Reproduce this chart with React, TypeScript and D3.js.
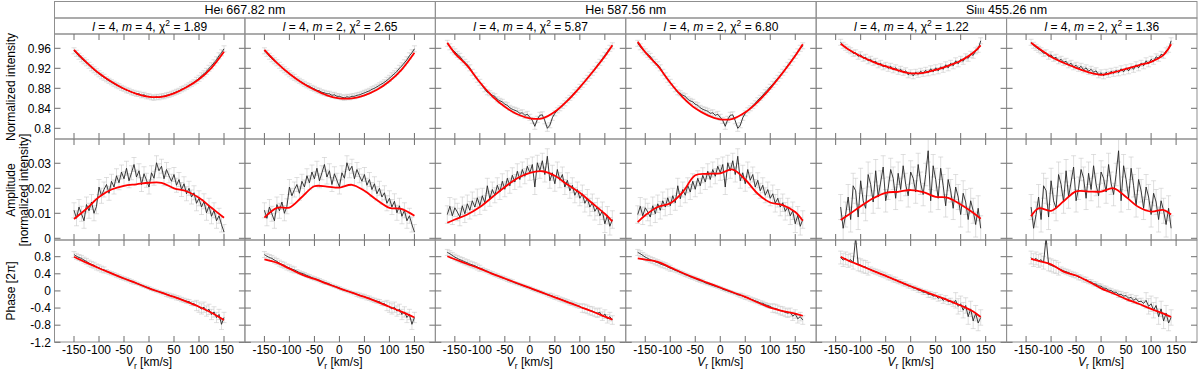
import * as d3 from 'd3';
import React, { useEffect, useRef } from 'react';

// velocity grids of the observed profiles (km/s)
const vHe667 = d3.range(-150, 151, 5);
const vHe587 = d3.range(-165, 166, 5);
const vSi455 = d3.range(-140, 141, 5);

// observed: normalized intensity, amplitude, phase
const he667Int = [0.955,0.950,0.944,0.939,0.935,0.931,0.926,0.921,0.917,0.913,0.909,0.905,0.902,0.898,0.895,0.892,0.889,0.886,0.884,0.881,0.879,0.876,0.875,0.872,0.871,0.869,0.869,0.866,0.867,0.864,0.864,0.862,0.861,0.863,0.862,0.864,0.864,0.866,0.867,0.869,0.871,0.873,0.875,0.878,0.880,0.883,0.886,0.889,0.892,0.896,0.900,0.905,0.909,0.914,0.920,0.925,0.931,0.937,0.945,0.951,0.959];
const he667Amp = [0.0112,0.0080,0.0125,0.0098,0.0070,0.0135,0.0110,0.0145,0.0100,0.0128,0.0205,0.0170,0.0195,0.0215,0.0180,0.0228,0.0205,0.0250,0.0222,0.0265,0.0238,0.0280,0.0230,0.0262,0.0295,0.0245,0.0270,0.0215,0.0258,0.0232,0.0205,0.0262,0.0240,0.0302,0.0270,0.0288,0.0238,0.0275,0.0250,0.0228,0.0255,0.0212,0.0235,0.0195,0.0218,0.0178,0.0200,0.0165,0.0182,0.0140,0.0160,0.0125,0.0148,0.0102,0.0130,0.0088,0.0112,0.0070,0.0090,0.0055,0.0025];
const he667Phase = [0.85,0.81,0.78,0.76,0.72,0.69,0.65,0.62,0.60,0.56,0.54,0.51,0.49,0.46,0.43,0.41,0.39,0.36,0.34,0.31,0.29,0.27,0.25,0.22,0.20,0.18,0.16,0.13,0.11,0.09,0.07,0.04,0.02,0.00,-0.02,-0.04,-0.06,-0.08,-0.10,-0.12,-0.13,-0.16,-0.17,-0.20,-0.22,-0.24,-0.25,-0.29,-0.30,-0.34,-0.38,-0.42,-0.38,-0.47,-0.43,-0.55,-0.49,-0.62,-0.55,-0.78,-0.62];

const he587Int = [0.970,0.963,0.957,0.953,0.948,0.944,0.937,0.932,0.927,0.921,0.912,0.905,0.898,0.892,0.885,0.878,0.872,0.870,0.866,0.864,0.858,0.855,0.853,0.848,0.846,0.841,0.838,0.836,0.834,0.830,0.831,0.826,0.828,0.822,0.816,0.804,0.818,0.826,0.827,0.815,0.800,0.806,0.821,0.830,0.836,0.840,0.845,0.850,0.856,0.861,0.866,0.872,0.877,0.883,0.888,0.894,0.900,0.906,0.912,0.918,0.926,0.932,0.939,0.946,0.953,0.960,0.965];
const he587Amp = [0.0095,0.0128,0.0090,0.0122,0.0105,0.0085,0.0130,0.0098,0.0138,0.0112,0.0150,0.0125,0.0162,0.0130,0.0170,0.0142,0.0210,0.0158,0.0195,0.0172,0.0212,0.0185,0.0228,0.0196,0.0240,0.0210,0.0252,0.0225,0.0268,0.0235,0.0275,0.0248,0.0288,0.0262,0.0295,0.0205,0.0302,0.0270,0.0310,0.0255,0.0328,0.0230,0.0262,0.0218,0.0275,0.0232,0.0255,0.0205,0.0232,0.0190,0.0212,0.0172,0.0195,0.0160,0.0178,0.0140,0.0160,0.0125,0.0142,0.0108,0.0125,0.0090,0.0110,0.0058,0.0092,0.0048,0.0075];
const he587Phase = [0.90,0.87,0.83,0.79,0.76,0.73,0.71,0.68,0.66,0.63,0.61,0.59,0.56,0.53,0.51,0.48,0.46,0.43,0.41,0.38,0.36,0.33,0.31,0.29,0.26,0.24,0.22,0.19,0.17,0.15,0.13,0.11,0.09,0.07,0.04,0.02,0.00,-0.02,-0.04,-0.06,-0.09,-0.10,-0.12,-0.15,-0.16,-0.19,-0.21,-0.23,-0.25,-0.28,-0.29,-0.32,-0.34,-0.36,-0.40,-0.41,-0.43,-0.46,-0.47,-0.50,-0.52,-0.50,-0.59,-0.54,-0.65,-0.60,-0.68];

const si455Int = [0.972,0.966,0.962,0.958,0.955,0.950,0.951,0.944,0.947,0.940,0.942,0.935,0.938,0.932,0.934,0.927,0.930,0.923,0.926,0.920,0.924,0.917,0.921,0.914,0.918,0.912,0.915,0.907,0.911,0.905,0.912,0.908,0.914,0.910,0.916,0.911,0.919,0.913,0.921,0.915,0.923,0.918,0.927,0.921,0.930,0.925,0.935,0.929,0.938,0.934,0.943,0.940,0.948,0.946,0.955,0.958,0.975];
const si455Amp = [0.0125,0.0040,0.0095,0.0165,0.0075,0.0210,0.0190,0.0085,0.0230,0.0150,0.0120,0.0255,0.0215,0.0145,0.0270,0.0165,0.0225,0.0285,0.0150,0.0200,0.0275,0.0240,0.0160,0.0260,0.0195,0.0290,0.0215,0.0170,0.0265,0.0240,0.0185,0.0295,0.0220,0.0175,0.0255,0.0350,0.0150,0.0290,0.0235,0.0160,0.0280,0.0210,0.0130,0.0235,0.0190,0.0120,0.0205,0.0165,0.0095,0.0180,0.0145,0.0075,0.0150,0.0110,0.0055,0.0120,0.0040];
const si455Phase = [0.78,0.72,0.76,0.70,0.73,0.66,1.25,0.62,0.60,0.57,0.56,0.52,0.50,0.47,0.45,0.43,0.40,0.38,0.36,0.32,0.31,0.27,0.26,0.22,0.21,0.17,0.16,0.12,0.11,0.07,0.06,0.02,0.01,-0.03,-0.03,-0.08,-0.08,-0.12,-0.11,-0.17,-0.15,-0.22,-0.18,-0.25,-0.24,-0.29,-0.22,-0.36,-0.30,-0.45,-0.34,-0.60,-0.42,-0.70,-0.52,-0.75,-0.62];

// error bars, read per velocity zone (left wing .. right wing)
const err667Int = [0.006, 0.005, 0.005, 0.005, 0.006];
const err667Amp = [0.003, 0.0028, 0.0028, 0.0028, 0.003];
const err667Phase = [0.07, 0.04, 0.03, 0.05, 0.12];
const err587Int = [0.006, 0.005, 0.006, 0.005, 0.006];
const err587Amp = [0.0035, 0.003, 0.003, 0.003, 0.0035];
const err587Phase = [0.07, 0.04, 0.03, 0.05, 0.1];
const err455Int = [0.006, 0.006, 0.006, 0.006, 0.006];
const err455Amp = [0.005, 0.0045, 0.0045, 0.0045, 0.005];
const err455Phase = [0.15, 0.06, 0.05, 0.07, 0.18];

// model fits (red)
const fitV667 = [-150, -125, -100, -75, -50, -25, 0, 25, 50, 75, 100, 125, 150];
const fit667m4Int = [0.957,0.932,0.910,0.893,0.879,0.869,0.863,0.863,0.870,0.882,0.898,0.921,0.953];
const fit667m2Int = [0.957,0.931,0.909,0.891,0.877,0.866,0.860,0.860,0.866,0.877,0.894,0.918,0.951];
const fit667m4Amp = [0.0077,0.0118,0.0165,0.0195,0.0210,0.0216,0.0222,0.0222,0.0200,0.0188,0.0162,0.0122,0.0082];
const fit667m2Amp = [0.0083,0.0122,0.0123,0.0165,0.0208,0.0207,0.0203,0.0214,0.0190,0.0153,0.0122,0.0117,0.0090];
const fit667m4Phase = [0.80,0.66,0.53,0.41,0.29,0.18,0.06,-0.04,-0.14,-0.25,-0.37,-0.51,-0.68];
const fit667m2Phase = [0.74,0.66,0.52,0.38,0.28,0.17,0.06,-0.04,-0.14,-0.25,-0.37,-0.49,-0.62];

const fitV587 = [-165, -150, -125, -100, -75, -50, -25, 0, 25, 50, 75, 100, 125, 150, 165];
const fit587m4Int = [0.971,0.950,0.925,0.892,0.864,0.843,0.828,0.820,0.820,0.833,0.855,0.882,0.912,0.944,0.966];
const fit587m2Int = [0.973,0.952,0.925,0.891,0.862,0.840,0.826,0.818,0.819,0.832,0.853,0.880,0.911,0.945,0.968];
const fit587m4Amp = [0.0062,0.0075,0.0095,0.0125,0.0165,0.0205,0.0240,0.0262,0.0268,0.0250,0.0215,0.0182,0.0140,0.0098,0.0068];
const fit587m2Amp = [0.0065,0.0092,0.0125,0.0140,0.0185,0.0252,0.0258,0.0260,0.0275,0.0235,0.0178,0.0143,0.0133,0.0105,0.0070];
const fit587m4Phase = [0.81,0.74,0.63,0.52,0.40,0.29,0.18,0.07,-0.04,-0.15,-0.26,-0.37,-0.48,-0.60,-0.67];
const fit587m2Phase = [0.76,0.73,0.68,0.55,0.42,0.30,0.19,0.08,-0.03,-0.14,-0.27,-0.39,-0.47,-0.53,-0.58];

const fitV455 = [-140, -125, -100, -75, -50, -25, 0, 25, 50, 75, 100, 125, 140];
const fit455m4Int = [0.969,0.958,0.944,0.933,0.924,0.916,0.910,0.911,0.917,0.925,0.935,0.951,0.966];
const fit455m2Int = [0.971,0.960,0.943,0.931,0.921,0.912,0.907,0.912,0.919,0.926,0.933,0.947,0.968];
const fit455m4Amp = [0.0073,0.0093,0.0128,0.0160,0.0182,0.0186,0.0193,0.0185,0.0166,0.0162,0.0135,0.0102,0.0078];
const fit455m2Amp = [0.0088,0.0120,0.0110,0.0148,0.0188,0.0187,0.0187,0.0200,0.0165,0.0125,0.0107,0.0113,0.0095];
const fit455m4Phase = [0.80,0.71,0.59,0.47,0.35,0.23,0.11,0.00,-0.11,-0.22,-0.34,-0.48,-0.61];
const fit455m2Phase = [0.75,0.70,0.62,0.45,0.36,0.22,0.06,-0.06,-0.19,-0.30,-0.42,-0.53,-0.61];

// panel titles
const lineNames = [['He', 'I', ' 667.82 nm'], ['He', 'I', ' 587.56 nm'], ['Si', 'III', ' 455.26 nm']];
const degreeL = [4, 4, 4, 4, 4, 4];
const orderM = [4, 2, 4, 2, 4, 2];
const chi2 = ['1.89', '2.65', '5.87', '6.80', '1.22', '1.36'];

// axis ticks
const xTicks = [-150, -100, -50, 0, 50, 100, 150];
const intTicks = [0.8, 0.84, 0.88, 0.92, 0.96];
const ampTicks = [0, 0.01, 0.02, 0.03];
const phaseTicks = [-1.2, -0.8, -0.4, 0, 0.4, 0.8];

const FONT = '"Liberation Sans", Arial, Helvetica, sans-serif';

export default function App() {
  const svgRef = useRef<SVGSVGElement>(null);

  useEffect(() => {
    const svg = d3.select(svgRef.current);
    svg.selectAll('*').remove();

    const lines = [
      { v: vHe667, obs: [he667Int, he667Amp, he667Phase], err: [err667Int, err667Amp, err667Phase], fitV: fitV667,
        fits: [[fit667m4Int, fit667m4Amp, fit667m4Phase], [fit667m2Int, fit667m2Amp, fit667m2Phase]] },
      { v: vHe587, obs: [he587Int, he587Amp, he587Phase], err: [err587Int, err587Amp, err587Phase], fitV: fitV587,
        fits: [[fit587m4Int, fit587m4Amp, fit587m4Phase], [fit587m2Int, fit587m2Amp, fit587m2Phase]] },
      { v: vSi455, obs: [si455Int, si455Amp, si455Phase], err: [err455Int, err455Amp, err455Phase], fitV: fitV455,
        fits: [[fit455m4Int, fit455m4Amp, fit455m4Phase], [fit455m2Int, fit455m2Amp, fit455m2Phase]] },
    ];

    const rows = [
      { top: 34, bottom: 139, domain: [0.7786, 0.9886], ticks: intTicks },
      { top: 139, bottom: 240, domain: [-0.00068, 0.0397], ticks: ampTicks },
      { top: 240, bottom: 342, domain: [-1.193, 1.19], ticks: phaseTicks },
    ];

    const colX = d3.scaleLinear().domain([0, 6]).range([54.5, 1197]);
    const frame = '#8f8f8f';
    const tickCol = '#6f6f6f';
    const tickLen = 6;

    const root = svg.append('g').style('font-family', FONT);
    const defs = root.append('defs');

    // header row 1: spectral lines
    lineNames.forEach((nm, k) => {
      const x0 = colX(2 * k), x1 = colX(2 * k + 2);
      root.append('rect').attr('x', x0).attr('y', 1.5).attr('width', x1 - x0).attr('height', 16.5)
        .attr('fill', 'none').attr('stroke', frame);
      const t = root.append('text').attr('x', (x0 + x1) / 2).attr('y', 14).attr('text-anchor', 'middle')
        .style('font-size', '12.5px');
      t.append('tspan').text(nm[0]);
      t.append('tspan').style('font-size', '9px').text(nm[1]);
      t.append('tspan').text(nm[2]);
    });

    d3.range(6).forEach((c) => {
      const line = lines[Math.floor(c / 2)];
      const fit = line.fits[c % 2];
      const x0 = colX(c), x1 = colX(c + 1);
      const x = d3.scaleLinear().domain([-189, 191.8]).range([x0, x1]);

      // header row 2: mode + chi2
      root.append('rect').attr('x', x0).attr('y', 18).attr('width', x1 - x0).attr('height', 16)
        .attr('fill', 'none').attr('stroke', frame);
      const t = root.append('text').attr('x', (x0 + x1) / 2).attr('y', 30.5).attr('text-anchor', 'middle')
        .style('font-size', '12px');
      t.append('tspan').style('font-style', 'italic').text('l');
      t.append('tspan').text(` = ${degreeL[c]}, `);
      t.append('tspan').style('font-style', 'italic').text('m');
      t.append('tspan').text(` = ${orderM[c]}, χ`);
      t.append('tspan').attr('dy', -5).style('font-size', '8.5px').text('2');
      t.append('tspan').attr('dy', 5).text(` = ${chi2[c]}`);

      rows.forEach((r, ri) => {
        const y = d3.scaleLinear().domain(r.domain).range([r.bottom, r.top]);
        const g = root.append('g');
        const clipId = `clip-${c}-${ri}`;
        defs.append('clipPath').attr('id', clipId).append('rect')
          .attr('x', x0).attr('y', r.top).attr('width', x1 - x0).attr('height', r.bottom - r.top);
        const data = g.append('g').attr('clip-path', `url(#${clipId})`);

        const obs = line.obs[ri];
        const err = line.err[ri];
        const n = obs.length;
        const pts = line.v.map((v, i) => ({ v, val: obs[i], e: err[Math.min(err.length - 1, Math.floor((i * err.length) / n))] }));

        // error bars
        const eb = data.append('g').attr('stroke', '#c4c4c4').attr('stroke-opacity', 0.55).attr('stroke-width', 1);
        pts.forEach((p) => {
          const px = x(p.v);
          const ya = y(p.val - p.e), yb = y(p.val + p.e);
          eb.append('line').attr('x1', px).attr('x2', px).attr('y1', ya).attr('y2', yb);
          eb.append('line').attr('x1', px - 2.5).attr('x2', px + 2.5).attr('y1', ya).attr('y2', ya);
          eb.append('line').attr('x1', px - 2.5).attr('x2', px + 2.5).attr('y1', yb).attr('y2', yb);
        });

        // observed
        const obsLine = d3.line<{ v: number; val: number }>().x((d) => x(d.v)).y((d) => y(d.val));
        data.append('path').attr('d', obsLine(pts)).attr('fill', 'none').attr('stroke', '#262626').attr('stroke-width', 0.9);

        // model fit
        const fitPts = line.fitV.map((v, i) => ({ v, val: fit[ri][i] }));
        const fitLine = d3.line<{ v: number; val: number }>().x((d) => x(d.v)).y((d) => y(d.val))
          .curve(d3.curveCatmullRom.alpha(0.5));
        data.append('path').attr('d', fitLine(fitPts)).attr('fill', 'none').attr('stroke', '#ff0000').attr('stroke-width', 1.8);

        // frame
        g.append('rect').attr('x', x0).attr('y', r.top).attr('width', x1 - x0).attr('height', r.bottom - r.top)
          .attr('fill', 'none').attr('stroke', frame);

        // inward ticks
        const tk = g.append('g').attr('stroke', tickCol).attr('stroke-width', 1);
        xTicks.forEach((v) => {
          tk.append('line').attr('x1', x(v)).attr('x2', x(v)).attr('y1', r.top).attr('y2', r.top + tickLen);
          tk.append('line').attr('x1', x(v)).attr('x2', x(v)).attr('y1', r.bottom).attr('y2', r.bottom - tickLen);
        });
        r.ticks.forEach((v) => {
          tk.append('line').attr('x1', x0).attr('x2', x0 + tickLen).attr('y1', y(v)).attr('y2', y(v));
          tk.append('line').attr('x1', x1).attr('x2', x1 - tickLen).attr('y1', y(v)).attr('y2', y(v));
        });

        if (c === 0) {
          r.ticks.forEach((v) => {
            g.append('text').attr('x', 51).attr('y', y(v) + 4.3).attr('text-anchor', 'end')
              .style('font-size', '12px').text(String(+v.toFixed(3)));
          });
        }

        if (ri === 2) {
          xTicks.forEach((v) => {
            g.append('text').attr('x', x(v)).attr('y', 354).attr('text-anchor', 'middle')
              .style('font-size', '12px').text(String(v));
          });
          const xt = g.append('text').attr('x', x(0)).attr('y', 366).attr('text-anchor', 'middle')
            .style('font-size', '12px');
          xt.append('tspan').style('font-style', 'italic').text('V');
          xt.append('tspan').attr('dy', 2.5).style('font-size', '8.5px').text('r');
          xt.append('tspan').attr('dy', -2.5).text(' [km/s]');
        }
      });
    });

    // y titles
    const yTitle = (cx: number, cy: number, txt: string) =>
      root.append('text').attr('transform', `translate(${cx},${cy}) rotate(-90)`).attr('text-anchor', 'middle')
        .style('font-size', '12px').text(txt);
    yTitle(15, 87, 'Normalized intensity');
    yTitle(15, 190, 'Amplitude');
    yTitle(28, 190, '[normalized intensity]');
    yTitle(15, 291, 'Phase [2π]');
  }, []);

  return (
    <svg ref={svgRef} width={1200} height={370} style={{ position: 'absolute', left: 0, top: 0, background: '#fff' }} />
  );
}
